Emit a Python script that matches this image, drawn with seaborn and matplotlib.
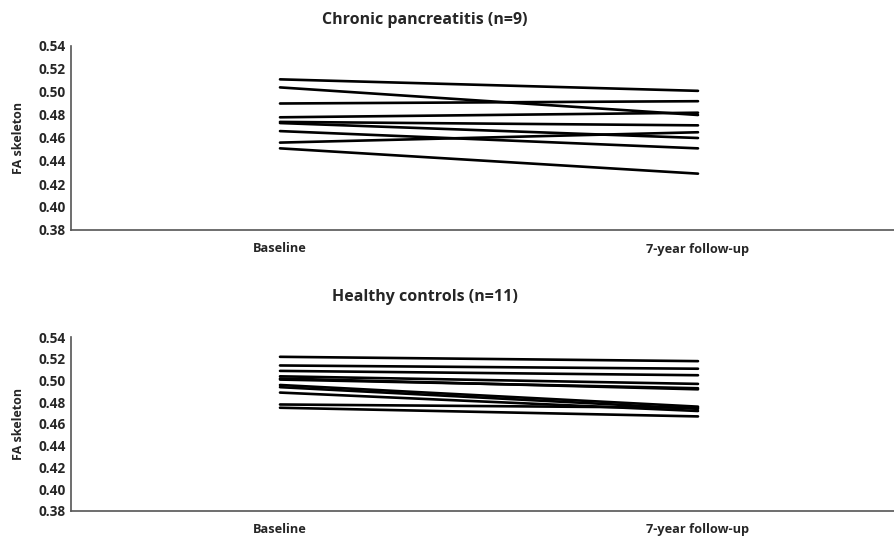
import pandas as pd
import matplotlib.pyplot as plt
import seaborn as sns

timepoints = ['Baseline', '7-year follow-up']

# chronic pancreatitis, per subject: baseline, follow-up
cp_baseline = [0.511, 0.504, 0.490, 0.478, 0.474, 0.473, 0.466, 0.456, 0.451]
cp_followup = [0.501, 0.480, 0.492, 0.482, 0.471, 0.460, 0.451, 0.465, 0.429]

# healthy controls
hc_baseline = [0.522, 0.514, 0.509, 0.504, 0.502, 0.496, 0.494, 0.489, 0.478, 0.475, 0.501]
hc_followup = [0.518, 0.511, 0.505, 0.497, 0.492, 0.476, 0.474, 0.472, 0.475, 0.467, 0.493]

yticks = [0.38, 0.40, 0.42, 0.44, 0.46, 0.48, 0.50, 0.52, 0.54]


def to_long(base, follow):
    rows = []
    for i, (b, f) in enumerate(zip(base, follow)):
        rows.append({'subject': i, 'time': 0, 'fa': b})
        rows.append({'subject': i, 'time': 1, 'fa': f})
    return pd.DataFrame(rows)


sns.set_style('white')
plt.rcParams['font.family'] = ['Open Sans', 'DejaVu Sans']

fig = plt.figure(figsize=(8.94, 5.39), dpi=100)
ax1 = fig.add_axes([71/894, 1-230/539, (907-71)/894, (230-46)/539])
ax2 = fig.add_axes([71/894, 1-510.7/539, (907-71)/894, (510.7-337.3)/539])

panels = [(ax1, cp_baseline, cp_followup, 'Chronic pancreatitis (n=9)', 20),
          (ax2, hc_baseline, hc_followup, 'Healthy controls (n=11)', 297)]

for ax, base, follow, title, ty in panels:
    df = to_long(base, follow)
    sns.lineplot(data=df, x='time', y='fa', units='subject', estimator=None,
                 color='black', linewidth=1.9, ax=ax)
    ax.set_xlim(-0.5, 1.5)
    ax.set_ylim(0.38, 0.54)
    ax.set_yticks(yticks)
    ax.set_yticklabels([f'{v:.2f}' for v in yticks], fontsize=9.8, fontweight='bold')
    ax.set_xticks([0, 1])
    ax.set_xticklabels(timepoints, fontsize=9.2, fontweight='bold')
    ax.set_xticks([0.5], minor=True)
    ax.tick_params(axis='x', which='major', length=0, pad=9)
    ax.tick_params(axis='x', which='minor', length=4, direction='out', color='#555555')
    ax.tick_params(axis='y', length=0, pad=4)
    ax.set_xlabel('')
    ax.set_ylabel('FA skeleton', fontsize=9, fontweight='bold')
    ax.yaxis.set_label_coords(-46/836, 0.5)
    for s in ['top', 'right']:
        ax.spines[s].set_visible(False)
    for s in ['left', 'bottom']:
        ax.spines[s].set_color('#555555')
        ax.spines[s].set_linewidth(1.2)
    fig.text(425/894, 1-ty/539, title, ha='center', va='center',
             fontsize=11.5, fontweight='bold')

fig.savefig('out.png', dpi=100)
